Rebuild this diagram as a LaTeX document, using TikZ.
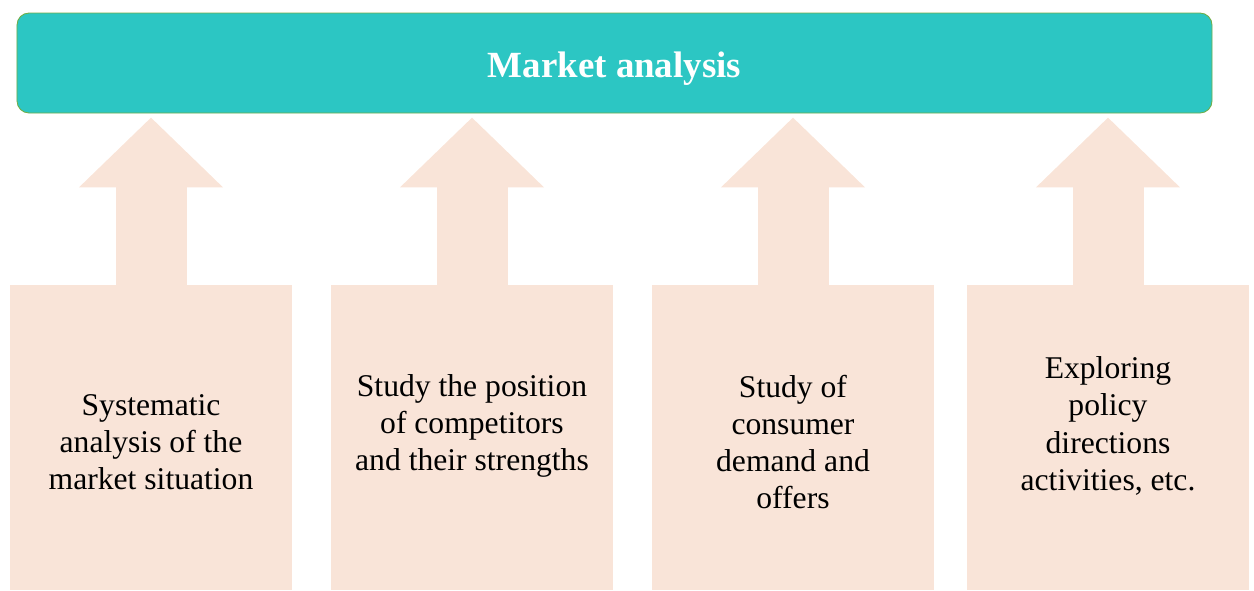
\documentclass[tikz,border=0pt]{standalone}
\usepackage{fontspec}
\setmainfont{Liberation Serif}
\usetikzlibrary{positioning}
\usetikzlibrary{arrows.meta}
\usetikzlibrary{calc}
\definecolor{barteal}{HTML}{2CC6C3}
\definecolor{baredge}{HTML}{70AD47}
\definecolor{peach}{HTML}{F9E4D8}

\begin{document}
\begin{tikzpicture}
      [
        topbar/.style = {draw=baredge, line width=0.5pt, fill=barteal, rounded corners=0.24cm,
            minimum width=23.9cm, minimum height=2cm, text=white,
            text height=0.56cm, text depth=0pt,
            font=\fontsize{21}{25}\selectfont\bfseries},
        itembox/.style = {fill=peach, minimum width=5.64cm, minimum height=6.1cm, inner sep=0pt},
        itemtext/.style = {align=center, font=\fontsize{18}{21.2}\selectfont},
        uparrow/.style = {draw=peach, line width=1.42cm, -{Triangle[length=1.4cm,width=2.8cm]}}
      ]

      \useasboundingbox (0,0) rectangle (25.08,-11.8);

      \node[topbar] (bar) at (12.29,-1.26) {Market analysis};

      % the four boxes along the bottom
      \node[itembox] (b1) at (3.02,-8.75) {};
      \node[itembox] (b2) at (9.44,-8.75) {};
      \node[itembox] (b3) at (15.86,-8.75) {};
      \node[itembox] (b4) at (22.16,-8.75) {};

      \node[itemtext] (t1) at ($(b1.center)+(0,-0.09)$) {Systematic\\analysis of the\\market situation};
      \node[itemtext] (t2) at ($(b2.center)+(0,0.23)$) {Study the position\\of competitors\\and their strengths};
      \node[itemtext] (t3) at ($(b3.center)+(0,-0.09)$) {Study of\\consumer\\demand and\\offers};
      \node[itemtext] (t4) at ($(b4.center)+(0,0.23)$) {Exploring\\policy\\directions\\activities, etc.};

      % arrows up into the bar
      \foreach \b in {b1,b2,b3,b4}
        {
          \coordinate (\b-tip) at ($(\b.north |- bar.south)+(0,-0.08)$);
          \draw[uparrow] (\b.north) -- (\b-tip);
        }

    \end{tikzpicture}
\end{document}
